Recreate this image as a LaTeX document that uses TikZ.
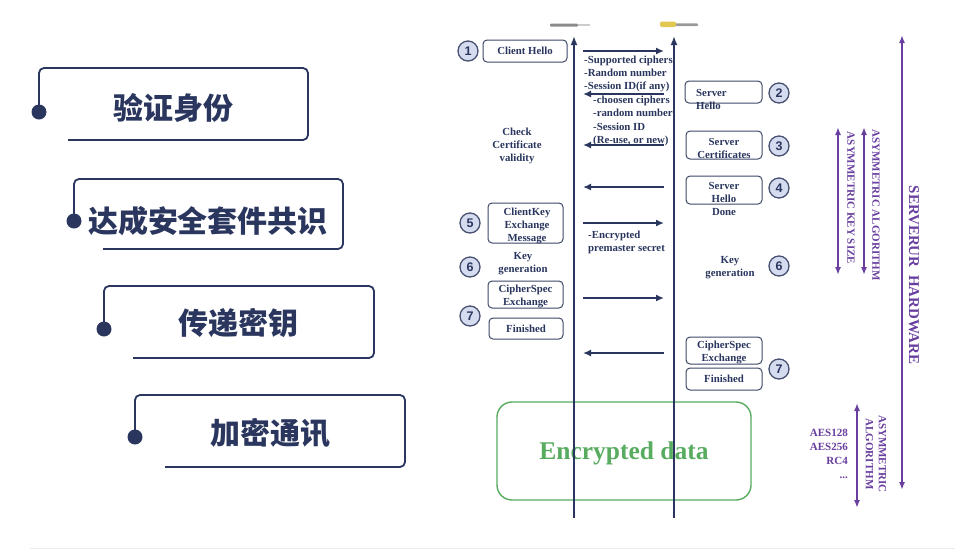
\documentclass[tikz,border=0pt]{standalone}
\usepackage{fontspec}
\setmainfont{Liberation Serif}
\setsansfont{Liberation Sans}
\newfontfamily\cjk{Noto Sans CJK SC}
\usetikzlibrary{arrows.meta}
\definecolor{navy}{RGB}{42,54,94}
\definecolor{boxc}{RGB}{62,72,104}
\definecolor{circf}{RGB}{214,220,240}
\definecolor{circd}{RGB}{72,82,112}
\definecolor{encg}{RGB}{88,172,96}
\definecolor{purp}{RGB}{104,62,158}
\definecolor{iconyel}{RGB}{226,200,80}
\tikzset{
  frame/.style={draw=navy, line width=1.8pt, rounded corners=5pt},
  cntxt/.style={font=\cjk\bfseries\fontsize{30}{34}\selectfont, text=navy, inner sep=0pt},
  life/.style={draw=navy, line width=2.2pt, -{Latex[length=9pt,width=7pt]}},
  msg/.style={draw=navy, line width=2pt, -{Latex[length=8pt,width=7pt]}},
  stepbox/.style={draw=boxc, line width=1pt, rounded corners=4pt, inner sep=0pt, outer sep=0pt},
  lbl/.style={font=\bfseries\fontsize{10.8}{13}\selectfont, text=navy, inner sep=0pt, align=center},
  lbll/.style={font=\bfseries\fontsize{10.8}{13}\selectfont, text=navy, inner sep=0pt, align=left, anchor=west},
  num/.style={circle, draw=circd, fill=circf, line width=1.3pt, minimum size=20pt, inner sep=0pt,
    font=\sffamily\bfseries\fontsize{12.5}{12.5}\selectfont, text=navy},
  parr/.style={draw=purp, line width=1.6pt, {Latex[length=8pt,width=6pt]}-{Latex[length=8pt,width=6pt]}},
  ptxt/.style={font=\bfseries\fontsize{11}{13}\selectfont, text=purp, inner sep=0pt},
}
\begin{document}
\begin{tikzpicture}[x=1pt,y=-1pt]
\useasboundingbox (0,0) rectangle (970,550);
\fill[white] (0,0) rectangle (970,550);

% ---------------- left panel ----------------
\draw[frame] (39,112) -- (39,68) -- (308,68) -- (308,140) -- (68,140);
\fill[navy] (39,112) circle (7.5);
\node[cntxt] (t1) at (173,108) {验证身份};

\draw[frame] (74,221) -- (74,179) -- (343,179) -- (343,249) -- (103,249);
\fill[navy] (74,221) circle (7.5);
\node[cntxt] (t2) at (208,221) {达成安全套件共识};

\draw[frame] (104,329) -- (104,286) -- (374,286) -- (374,358) -- (133,358);
\fill[navy] (104,329) circle (7.5);
\node[cntxt] (t3) at (238,323) {传递密钥};

\draw[frame] (135,437) -- (135,395) -- (405,395) -- (405,467) -- (165,467);
\fill[navy] (135,437) circle (7.5);
\node[cntxt] (t4) at (270,433) {加密通讯};

% faint bottom line
\draw[black!8, line width=0.8pt] (30,548) -- (955,548);

% ---------------- top icons ----------------
\fill[black!45, rounded corners=1pt] (550,23.5) rectangle (578,26.5);
\fill[black!20] (578,24.3) rectangle (590,25.7);
\fill[black!40, rounded corners=1pt] (672,23.3) rectangle (698,26);
\fill[iconyel, rounded corners=2pt] (660,21.5) rectangle (676,27);

% ---------------- encrypted data ----------------
\node[draw=encg, line width=1.4pt, rounded corners=15pt, minimum width=254pt, minimum height=98pt,
  inner sep=0pt] (enc) at (624,451) {};
\node[font=\bfseries\fontsize{25.5}{28}\selectfont, text=encg, inner sep=0pt] (enct) at (624,453) {Encrypted data};

% ---------------- lifelines ----------------
\coordinate (lb) at (574,518);
\coordinate (lt) at (574,36);
\coordinate (rb) at (674,518);
\coordinate (rt) at (674,36);
\draw[life] (lb) -- (lt);
\draw[life] (rb) -- (rt);

% ---------------- messages ----------------
\coordinate (m1a) at (583,51);  \coordinate (m1b) at (664,51);
\coordinate (m2a) at (664,94);  \coordinate (m2b) at (583,94);
\coordinate (m3a) at (664,145); \coordinate (m3b) at (583,145);
\coordinate (m4a) at (664,187); \coordinate (m4b) at (583,187);
\coordinate (m5a) at (583,223); \coordinate (m5b) at (664,223);
\coordinate (m6a) at (583,298); \coordinate (m6b) at (664,298);
\coordinate (m7a) at (664,353); \coordinate (m7b) at (583,353);
\draw[msg] (m1a) -- (m1b);
\draw[msg] (m2a) -- (m2b);
\draw[msg] (m3a) -- (m3b);
\draw[msg] (m4a) -- (m4b);
\draw[msg] (m5a) -- (m5b);
\draw[msg] (m6a) -- (m6b);
\draw[msg] (m7a) -- (m7b);

\node[lbll] (pa) at (584,73.5) {-Supported ciphers\\-Random number\\-Session ID(if any)};
\node[lbll, font=\bfseries\fontsize{10.8}{13.3}\selectfont] (pb) at (593,121) {-choosen ciphers\\-random number\\-Session ID\\(Re-use, or new)};
\node[lbll] (pc) at (588,242.5) {-Encrypted\\premaster secret};

% ---------------- client boxes ----------------
\node[stepbox, minimum width=84pt, minimum height=22pt] (ch) at (525,51) {};
\node[lbl] (cht) at (525,51) {Client Hello};
\node[lbl] (chk) at (517,146) {Check\\Certificate\\validity};
\node[stepbox, minimum width=75pt, minimum height=40pt] (ck) at (525.5,223) {};
\node[lbl] (ckt) at (527,226) {ClientKey\\Exchange\\Message};
\node[lbl] (kg1) at (523,264) {Key\\generation};
\node[stepbox, minimum width=75pt, minimum height=27pt] (cs1) at (525.5,294.5) {};
\node[lbl] (cs1t) at (525.5,296.5) {CipherSpec\\Exchange};
\node[stepbox, minimum width=74pt, minimum height=21pt] (fi1) at (526,328.5) {};
\node[lbl] (fi1t) at (526,329) {Finished};

% ---------------- server boxes ----------------
\node[stepbox, minimum width=77pt, minimum height=22pt] (sh) at (723.5,92) {};
\node[lbll] (sht) at (696,99.5) {Server\\Hello};
\node[stepbox, minimum width=76pt, minimum height=28pt] (sc) at (724,145) {};
\node[lbl] (sct) at (724,148) {Server\\Certificates};
\node[stepbox, minimum width=76pt, minimum height=28pt] (sd) at (724,190) {};
\node[lbl] (sdt) at (724,199) {Server\\Hello\\Done};
\node[lbl] (kg2) at (730,267.5) {Key\\generation};
\node[stepbox, minimum width=76pt, minimum height=27pt] (cs2) at (724,350.5) {};
\node[lbl] (cs2t) at (724,352.5) {CipherSpec\\Exchange};
\node[stepbox, minimum width=76pt, minimum height=22pt] (fi2) at (724,379) {};
\node[lbl] (fi2t) at (724,379) {Finished};

% ---------------- numbered circles ----------------
\node[num] (n1) at (468,51) {1};
\node[num] (n2) at (779,93) {2};
\node[num] (n3) at (779,146) {3};
\node[num] (n4) at (779,188) {4};
\node[num] (n5) at (470,223) {5};
\node[num] (n6a) at (470,267) {6};
\node[num] (n6b) at (779,266) {6};
\node[num] (n7a) at (470,316) {7};
\node[num] (n7b) at (779,369) {7};

% ---------------- right annotations ----------------
\coordinate (hw1) at (902,35);  \coordinate (hw2) at (902,490);
\coordinate (aa1) at (864,127); \coordinate (aa2) at (864,275);
\coordinate (ks1) at (838,127); \coordinate (ks2) at (838,275);
\coordinate (sa1) at (857,403); \coordinate (sa2) at (857,508);
\draw[parr] (hw1) -- (hw2);
\draw[parr] (aa1) -- (aa2);
\draw[parr] (ks1) -- (ks2);
\draw[parr] (sa1) -- (sa2);
\node[ptxt, font=\bfseries\fontsize{15}{17}\selectfont, rotate=-90] (hwt) at (914,275) {SERVERUR\ \ HARDWARE};
\node[ptxt, rotate=-90] (aat) at (876,205) {ASYMMETRIC ALGORITHM};
\node[ptxt, rotate=-90] (kst) at (851,198) {ASYMMETRIC KEY SIZE};
\node[ptxt, rotate=-90, align=center] (sat) at (876,454) {ASYMMETRIC\\ALGORITHM};
\node[ptxt, align=right, anchor=east, font=\bfseries\fontsize{11}{14}\selectfont] (alg) at (848,454) {AES128\\AES256\\RC4\\...};
\end{tikzpicture}
\end{document}
